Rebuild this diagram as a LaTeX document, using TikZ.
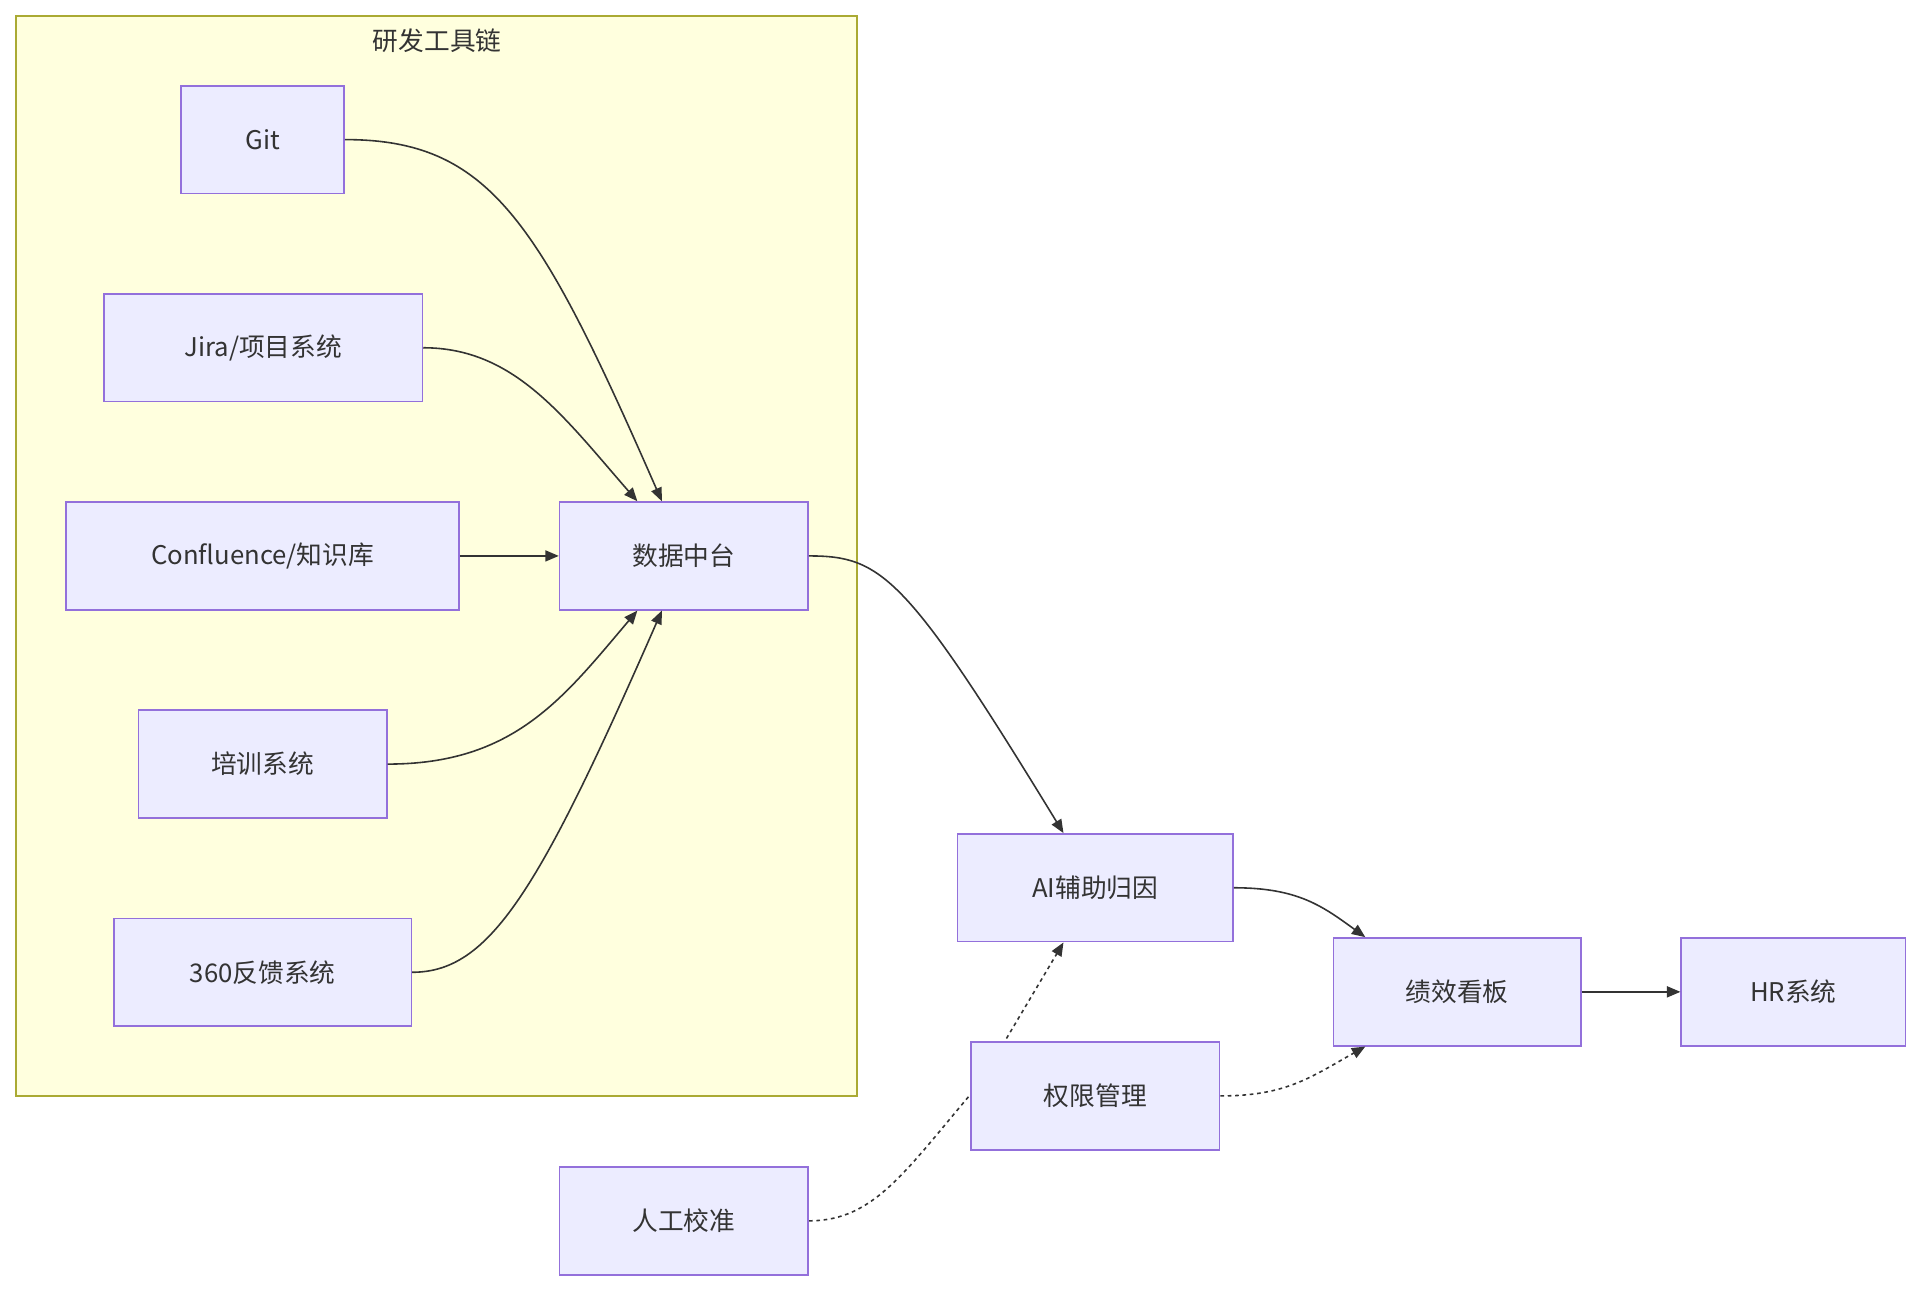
\documentclass[tikz,border=0pt]{standalone}
\usepackage{fontspec}
\setmainfont{Noto Sans CJK SC}
\usetikzlibrary{arrows.meta,backgrounds}
\definecolor{nfill}{HTML}{ECECFF}
\definecolor{ndraw}{HTML}{9370DB}
\definecolor{sfill}{HTML}{FFFFDE}
\definecolor{sdraw}{HTML}{AAAA33}
\definecolor{edgec}{HTML}{333333}
\begin{document}
\begin{tikzpicture}[x=1pt,y=-1pt,
  box/.style={draw=ndraw,fill=nfill,line width=1.3pt,font=\fontsize{21}{24}\selectfont,text=edgec,inner sep=0pt},
  link/.style={draw=edgec,line width=1.3pt,-{Triangle[length=11pt,width=9pt]}},
  dlink/.style={link,dash pattern=on 3pt off 3pt}]
\useasboundingbox (0,0) rectangle (1568,1053);
\node[draw=sdraw,fill=sfill,line width=1.3pt,minimum width=687pt,minimum height=882pt,inner sep=0pt] (sg) at (356.5,454) {};
\node[font=\fontsize{21}{24}\selectfont,text=edgec] (sgt) at (357,33) {研发工具链};
\node[box,minimum width=133pt,minimum height=88pt] (git) at (214.5,114) {Git};
\node[box,minimum width=260pt,minimum height=88pt] (jira) at (215,284) {Jira/项目系统};
\node[box,minimum width=321pt,minimum height=88pt] (conf) at (214.5,454) {Confluence/知识库};
\node[box,minimum width=203pt,minimum height=88pt] (train) at (214.5,624) {培训系统};
\node[box,minimum width=243pt,minimum height=88pt] (fb) at (214.5,794) {360反馈系统};
\node[box,minimum width=203pt,minimum height=88pt] (data) at (558.5,454) {数据中台};
\node[box,minimum width=225pt,minimum height=88pt] (ai) at (894.5,725) {AI辅助归因};
\node[box,minimum width=202pt,minimum height=88pt] (perf) at (1190,810) {绩效看板};
\node[box,minimum width=183pt,minimum height=88pt] (hr) at (1464.5,810) {HR系统};
\node[box,minimum width=203pt,minimum height=88pt] (perm) at (894.5,895) {权限管理};
\node[box,minimum width=203pt,minimum height=88pt] (man) at (558.5,997) {人工校准};
\begin{scope}[on background layer]
\draw[dlink] (man.east) .. controls (715,997) and (740,955) .. (800,885) -- ([xshift=-26pt]ai.south);
\end{scope}
\draw[link] (git.east) .. controls (400,114) and (440,180) .. ([xshift=-18pt]data.north);
\draw[link] (jira.east) .. controls (420,284) and (460,340) .. ([xshift=-38pt]data.north);
\draw[link] (conf.east) -- (data.west);
\draw[link] (train.east) .. controls (420,624) and (460,570) .. ([xshift=-38pt]data.south);
\draw[link] (fb.east) .. controls (400,794) and (440,728) .. ([xshift=-18pt]data.south);
\draw[link] (data.east) .. controls (720,454) and (740,470) .. ([xshift=-26pt]ai.north);
\draw[link] (ai.east) .. controls (1060,725) and (1080,740) .. ([xshift=-75pt]perf.north);
\draw[link] (perf.east) -- (hr.west);
\draw[dlink] (perm.east) .. controls (1050,895) and (1070,880) .. ([xshift=-75pt]perf.south);
\end{tikzpicture}
\end{document}
